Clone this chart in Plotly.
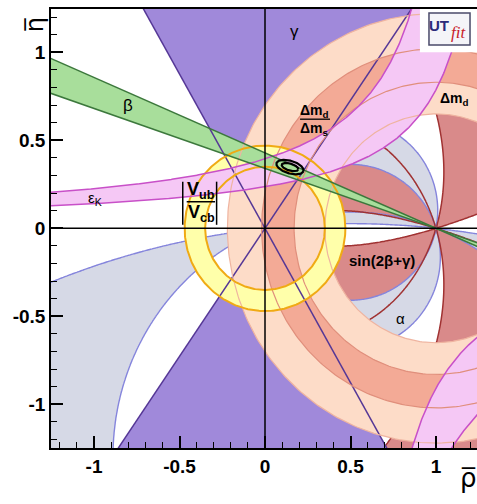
import numpy as np
import plotly.graph_objects as go

# ---------------- axes ----------------
x_range = [-1.2515, 1.2398]
y_range = [-1.248, 1.246]
tick_vals = [-1, -0.5, 0, 0.5, 1]
tick_text = ["-1", "-0.5", "0", "0.5", "1"]
minor_vals = [round(v, 1) for v in np.arange(-1.2, 1.25, 0.1)]

# ---------------- constraint values ----------------
vub_radii = [0.35, 0.47]            # |Vub/Vcb| ring around (0,0)
dmd_radii = [0.65, 1.22]            # Δm_d ring around (1,0)
dmds_radii = [0.83, 1.02]           # Δm_d/Δm_s ring around (1,0)
gamma_deg = [55.5, 119.7]           # γ wedge seen from (0,0)
beta_deg = [18.8, 23.2]             # β wedge seen from (1,0)
alpha_2a_bands = [[157.0, 216.0], [317.8, 348.0]]   # allowed 2α (deg)
sin2bg_min = 0.55                   # |sin(2β+γ)| lower bound
epsk_upper = [1.24, 0.47, 0.015]    # η = b + k/(a-ρ) : a, k, b
epsk_lower = [1.422, 0.331, 0.003]
epsk2_outer = [0.486, 0.467]        # η = -k/(ρ-a) : a, k
epsk2_inner = [0.253, 1.046]
fit_center = [0.146, 0.348]
fit_axes = [[0.082, 0.036], [0.050, 0.020]]
fit_tilt_deg = -16.0

# ---------------- colours ----------------
C_SIN, L_SIN = "#d98a8a", "#a03232"
C_ALPHA, L_ALPHA = "#d6d9e6", "#8585dc"
C_GAMMA, L_GAMMA = "#a089da", "#553796"
C_DMD, L_DMD = "#fddcc8", "#efb4a0"
C_DMDS, L_DMDS = "#f3aa96", "#e08f7c"
C_VUB, L_VUB = "#ffffaa", "#f0aa14"
C_EPS, L_EPS = "#f5c8f5", "#c850c8"
C_BETA, L_BETA = "#a8de9b", "#3c783c"
FONT = "Liberation Sans"

# ---------------- grid functions ----------------
grid = np.round(np.linspace(-1.3, 1.3, 261), 3)
RR, EE = np.meshgrid(grid, grid)
gam = np.arctan2(EE, RR)
bet = np.arctan2(EE, 1 - RR)
z_sin = np.round(np.abs(np.sin(2 * bet + gam)), 4)
two_alpha = 2 * (np.pi - bet - gam)
parts = []
for lo, hi in alpha_2a_bands:
    c = np.radians((lo + hi) / 2)
    w = np.radians((hi - lo) / 2)
    parts.append(np.cos(two_alpha - c) - np.cos(w))
z_alpha = np.round(np.maximum(parts[0], parts[1]), 4)


def ring(cx, cy, r1, r2, n=360):
    t = np.linspace(0, 2 * np.pi, n)
    xs = np.concatenate([cx + r2 * np.cos(t), cx + r1 * np.cos(t[::-1])])
    ys = np.concatenate([cy + r2 * np.sin(t), cy + r1 * np.sin(t[::-1])])
    return xs, ys


def circle(cx, cy, r, n=360):
    t = np.linspace(0, 2 * np.pi, n)
    return cx + r * np.cos(t), cy + r * np.sin(t)


def double_wedge(px, py, th1, th2, R=4.0, n=40):
    xs, ys = [], []
    for off in (0, 180):
        t = np.radians(np.linspace(th1 + off, th2 + off, n))
        xs += [px] + list(px + R * np.cos(t)) + [px, None]
        ys += [py] + list(py + R * np.sin(t)) + [py, None]
    return xs, ys


def full_lines(px, py, angles, R=4.0):
    xs, ys = [], []
    for th in angles:
        a = np.radians(th)
        xs += [px - R * np.cos(a), px + R * np.cos(a), None]
        ys += [py - R * np.sin(a), py + R * np.sin(a), None]
    return xs, ys


def hyper_up(a, k, b, top=1.4, n=900):
    rho = np.linspace(-1.4, a - k / (top - b), n)
    return rho, b + k / (a - rho)


def hyper_down(a, k, bottom=-1.4, n=600):
    rho = np.linspace(a + k / (-bottom), 1.4, n)
    return rho, -k / (rho - a)


def poly(fig, xs, ys, color):
    fig.add_trace(go.Scatter(x=xs, y=ys, mode="lines", fill="toself", fillcolor=color,
                             line=dict(width=0), hoverinfo="skip", showlegend=False))


def curve(fig, xs, ys, color, width=1.4):
    fig.add_trace(go.Scatter(x=xs, y=ys, mode="lines", line=dict(color=color, width=width),
                             hoverinfo="skip", showlegend=False))


def region(fig, z, value, fill, line_color=None, width=0.0):
    # plotly shades the side that fails the operation, so '<' shades z >= value
    fig.add_trace(go.Contour(
        x=grid, y=grid, z=z, showscale=False, hoverinfo="skip",
        contours=dict(type="constraint", operation="<", value=value),
        fillcolor=fill, line=dict(color=line_color or "rgba(0,0,0,0)", width=width)))


fig = go.Figure()

# ---------- fills (bottom to top) ----------
region(fig, z_sin, sin2bg_min, C_SIN)
region(fig, z_alpha, 0.0, C_ALPHA)
poly(fig, *double_wedge(0, 0, gamma_deg[0], gamma_deg[1]), C_GAMMA)
poly(fig, *ring(1, 0, dmd_radii[0], dmd_radii[1]), C_DMD)
poly(fig, *ring(1, 0, dmds_radii[0], dmds_radii[1]), C_DMDS)
poly(fig, *ring(0, 0, vub_radii[0], vub_radii[1]), C_VUB)

ux, uy = hyper_up(*epsk_upper)
lx, ly = hyper_up(*epsk_lower)
poly(fig, np.concatenate([ux, lx[::-1]]), np.concatenate([uy, ly[::-1]]), C_EPS)
ox, oy = hyper_down(*epsk2_outer)
ix, iy = hyper_down(*epsk2_inner)
poly(fig, np.concatenate([ox, ix[::-1]]), np.concatenate([oy, iy[::-1]]), C_EPS)

poly(fig, *double_wedge(1, 0, 180 - beta_deg[1], 180 - beta_deg[0]), C_BETA)

# ---------- boundary lines ----------
region(fig, z_alpha, 0.0, "rgba(0,0,0,0)", L_ALPHA, 1.4)
curve(fig, *full_lines(0, 0, gamma_deg), L_GAMMA, 1.5)
for r in dmd_radii:
    curve(fig, *circle(1, 0, r), L_DMD, 1.2)
for r in dmds_radii:
    curve(fig, *circle(1, 0, r), L_DMDS, 1.2)
region(fig, z_sin, sin2bg_min, "rgba(0,0,0,0)", L_SIN, 1.5)
for r in vub_radii:
    curve(fig, *circle(0, 0, r), L_VUB, 2.0)
for xs, ys in [(ux, uy), (lx, ly), (ox, oy), (ix, iy)]:
    curve(fig, xs, ys, L_EPS, 1.5)
curve(fig, *full_lines(1, 0, [180 - beta_deg[1], 180 - beta_deg[0]]), L_BETA, 1.5)

# ---------- fit contours ----------
t = np.linspace(0, 2 * np.pi, 200)
phi = np.radians(fit_tilt_deg)
for a, b in fit_axes:
    ex = fit_center[0] + a * np.cos(t) * np.cos(phi) - b * np.sin(t) * np.sin(phi)
    ey = fit_center[1] + a * np.cos(t) * np.sin(phi) + b * np.sin(t) * np.cos(phi)
    curve(fig, ex, ey, "black", 2.2)

# ---------- axes ----------
tickfont = dict(family=FONT, size=19, color="black", weight="bold")
common = dict(tickmode="array", tickvals=tick_vals, ticktext=tick_text, ticks="inside",
              ticklen=12, tickwidth=1.5, tickcolor="black",
              minor=dict(tickmode="array", tickvals=minor_vals, ticks="inside",
                         ticklen=6, tickwidth=1.2, tickcolor="black"),
              showline=True, linecolor="black", linewidth=1.6, showgrid=False,
              zeroline=False, tickfont=tickfont)
fig.update_xaxes(range=x_range, mirror=True, **common)
fig.update_yaxes(range=y_range, mirror=False, **common)

shapes = [
    dict(type="line", xref="x", yref="y", x0=0, x1=0, y0=y_range[0], y1=y_range[1],
         line=dict(color="black", width=1.5), layer="above"),
    dict(type="line", xref="x", yref="y", x0=x_range[0], x1=x_range[1], y0=0, y1=0,
         line=dict(color="black", width=1.5), layer="above"),
    # fraction bars and |..| of the labels
    dict(type="line", xref="x", yref="y", x0=0.205, x1=0.38, y0=0.62, y1=0.62,
         line=dict(color="black", width=1.3), layer="above"),
    dict(type="line", xref="x", yref="y", x0=-0.458, x1=-0.292, y0=0.151, y1=0.151,
         line=dict(color="black", width=1.5), layer="above"),
    dict(type="line", xref="x", yref="y", x0=-0.481, x1=-0.481, y0=0.02, y1=0.265,
         line=dict(color="black", width=1.5), layer="above"),
    dict(type="line", xref="x", yref="y", x0=-0.283, x1=-0.283, y0=0.02, y1=0.265,
         line=dict(color="black", width=1.5), layer="above"),
    # UTfit logo
    dict(type="rect", xref="x", yref="y", x0=0.906, x1=1.26, y0=1.0, y1=1.26,
         fillcolor="white", line=dict(width=0), layer="above"),
    dict(type="rect", xref="x", yref="y", x0=0.959, x1=1.199, y0=1.041, y1=1.223,
         fillcolor="#f4f4f8", line=dict(color="#4a4a6a", width=1.5), layer="above"),
]

ann = []


def label(x, y, text, size=15, bold=False, color="black", italic=False, family=FONT, **kw):
    ann.append(dict(x=x, y=y, xref="x", yref="y", text=text, showarrow=False,
                    font=dict(family=family, size=size, color=color,
                              weight="bold" if bold else "normal",
                              style="italic" if italic else "normal"), **kw))


label(0.175, 1.12, "γ", 17)
label(-0.804, 0.70, "β", 17)
label(-0.995, 0.17, "ε<sub>K</sub>", 15)
label(0.682, -0.18, "sin(2β+γ)", 15, bold=True)
label(0.79, -0.51, "α", 15)
label(1.11, 0.735, "Δm<sub>d</sub>", 14, bold=True)
label(0.292, 0.665, "Δm<sub>d</sub>", 14, bold=True)
label(0.292, 0.565, "Δm<sub>s</sub>", 14, bold=True)
label(-0.374, 0.215, "V<sub>ub</sub>", 18, bold=True)
label(-0.374, 0.082, "V<sub>cb</sub>", 18, bold=True)
label(1.02, 1.15, "UT", 15, bold=True, color="#2a2a7a")
label(1.13, 1.115, "fit", 17, color="#c8202a", italic=True, family="Liberation Serif")

ann.append(dict(x=-0.075, y=0.985, xref="paper", yref="paper", text="η\u0305", showarrow=False,
                textangle=-90, font=dict(family="DejaVu Sans", size=24, color="black")))
ann.append(dict(x=1.004, y=-0.108, xref="paper", yref="paper", text="ρ\u0305", showarrow=False,
                xanchor="right", font=dict(family="DejaVu Sans", size=26, color="black")))

fig.update_layout(width=477, height=504, margin=dict(l=51, r=0, t=9, b=56),
                  plot_bgcolor="white", paper_bgcolor="white", showlegend=False,
                  shapes=shapes, annotations=ann)

fig.write_html("out.html")
